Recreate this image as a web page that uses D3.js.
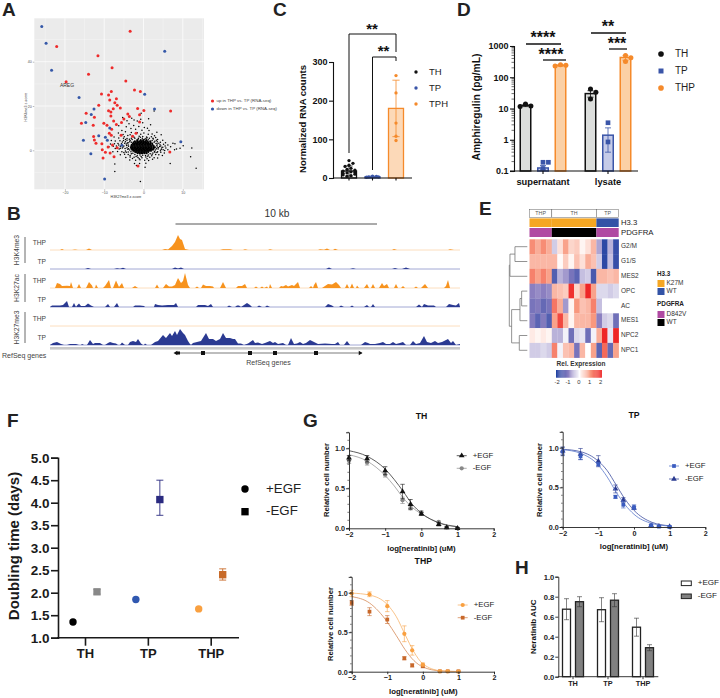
<!DOCTYPE html>
<html><head><meta charset="utf-8">
<script src="https://cdn.jsdelivr.net/npm/d3@7"></script>
<style>html,body{margin:0;background:#fff}svg{display:block}text{font-family:"Liberation Sans",Arial,sans-serif}</style>
</head><body><svg id="c" width="720" height="698"></svg>
<script>
// ---------- Panel A ----------
const upPts=[[-3.4,53.8],[-22.1,46.9],[-11.6,42.7],[-8,37.3],[-14,34.3],[-19.7,31],[-4.5,31.3],[-2.3,27.2],[-.8,26.6],[-10.7,25.4],[-8.2,26.5],[-8.9,25],[-6.9,23.3],[-8.6,22.7],[-7.3,21.5],[-6.7,20.3],[-11.4,20.3],[-5.9,19.1],[-7.7,18.8],[-8.9,17.9],[-8.3,17.3],[-14.6,16.7],[-8.3,15.5],[-12.5,14.9],[-1.5,18.9],[.1,18],[6.9,17.7],[-4,16.4],[-1,16.1],[-3.6,15.3],[-5,14.1],[-7.6,13.2],[-5.6,12.6],[-1,12.8],[-15.8,12.2],[-10.1,12.2],[-9.3,11.3],[-12.8,11.3],[-6.9,11.7],[-8.1,9.5],[-8.7,7.7],[-8.2,6.8],[-5.7,6.8],[-2.8,6.3],[-1.9,7.7],[-12.7,6.2],[-12.5,4.7],[-12.1,3.2],[-10.6,3],[-7.9,2.4],[-9,1.5],[-6.7,1.2],[-10.5,.2],[-9.7,-.9],[-8.5,-1.2],[-7.5,-2.9],[-10.3,-3.5],[-1.4,-7.1],[6.7,-.8]];
const downPts=[[-25.9,55.9],[-24.8,48.3],[-23.4,36.1],[5.4,44.7],[-16.4,23.8],[.3,25.3],[2.8,18.6],[-12.6,18.6],[-13.3,16.2],[-14.7,12.6],[-11.4,6.6],[-15.3,4.5],[-9.7,5.9],[-9.2,4.5],[-8.6,10.1],[-13.4,-1.5],[-5.5,2.3],[9.5,3.9],[-9.9,-12.9]];
const bgRows=[[4.6,[-1.6,-.7,-.1,.7]],[4.1,[-2.2,-1.6,-1.1,-.6,-.1,.4,1,1.7]],[3.6,[-2.5,-2,-1.6,-1.2,-.8,-.4,0,.4,.8,1.2,1.8]],[3.05,[-2.7,-2.3,-1.9,-1.5,-1.1,-.7,-.3,.1,.5,.9,1.3,1.7,2.2]],[2.5,[-3,-2.6,-2.2,-1.8,-1.4,-1,-.6,-.2,.2,.6,1,1.4,1.8,2.3]],[1.95,[-3.1,-2.7,-2.3,-1.9,-1.5,-1.1,-.7,-.3,.1,.5,.9,1.3,1.7,2.1,2.6]],[1.4,[-3.2,-2.8,-2.4,-2,-1.6,-1.2,-.8,-.4,0,.4,.8,1.2,1.6,2,2.5,2.9]],[.85,[-3.1,-2.7,-2.3,-1.9,-1.5,-1.1,-.7,-.3,.1,.5,.9,1.3,1.7,2.1,2.6]],[.3,[-2.9,-2.5,-2.1,-1.7,-1.3,-.9,-.5,-.1,.3,.7,1.1,1.5,1.9,2.4]],[-.25,[-2.6,-2.2,-1.8,-1.4,-1,-.6,-.2,.2,.6,1,1.4,1.9]],[-.8,[-2.1,-1.7,-1.3,-.9,-.5,-.1,.3,.7,1.2]],[-1.35,[-1.5,-1,-.6,-.2,.3,.8]]];
const bgMid=[[-3.9,3.4],[-3.4,4.4],[-2.9,4.9],[-1.3,5.1],[.2,5],[1.2,4.8],[2.2,4.4],[2.7,3.6],[3.2,3.1],[3.4,2.2],[3.8,1.2],[3.3,.7],[3,.1],[2.9,-.9],[2.4,-1.2],[1.7,-1.6],[1.2,-2.1],[.5,-2.3],[-.2,-2.2],[-.9,-2.1],[-1.6,-2.4],[-2.2,-1.9],[-2.7,-1.3],[-3.2,-.6],[-3.5,.1],[-3.8,.7],[-4.2,1.2],[-3.9,2.4],[-4.4,2.9],[-4.6,3.9],[-3.1,3.6],[-5.6,2.3],[-5.2,1.5],[-4.4,-.9],[-3.4,-2.3],[-1.9,-2.8],[-.6,-2.8],[1.1,-2.7],[2.1,-2.5],[3.4,-1],[4.3,-.2],[4.6,1],[4.4,2],[3.9,3.2],[3.3,4.6],[2.4,5.5],[.9,5.7],[-.8,5.9],[-2.4,5.9],[-3.6,5],[-4.6,4.9],[-5.4,3.7],[-6.3,2.4],[-5.9,.9],[-5,-1],[-2.8,-3.7],[-1.1,-3.8],[.9,-3.8],[2.3,-4],[5,.2],[5.5,1.9],[2.8,6.6],[-.7,7.2],[-3.4,7],[-4.9,6.1]];
const bgSparse=[[-3,14.5],[-2.4,13.7],[-1.6,13.2],[-.7,14],[1.3,14.2],[-.2,12.4],[1.8,11.5],[-3.7,12],[-2.5,11.2],[-1.2,10.8],[.2,10.3],[1,10],[-4.4,10.6],[-3.2,9.8],[-2,9.5],[-.4,9.1],[1.4,8.9],[3.4,8.2],[4.5,7],[-5.5,9],[-4.6,8.4],[-3.1,8],[-1.6,7.9],[.1,7.8],[1.2,7.3],[2.2,7.4],[-6.4,7.8],[-5.2,7.1],[-4,6.7],[-2.6,6.4],[-1.1,6.4],[-.2,6.2],[.8,6],[2,6.1],[3.1,5.8],[-7.5,6],[-6.3,5.6],[-5.1,5.4],[-4.2,5.3],[-3.1,5.4],[-2.2,5.5],[-1.3,5.5],[-.3,5.4],[.6,5.3],[1.5,5.4],[2.5,5.1],[3.6,4.9],[4.9,4.6],[-8.2,4.4],[-7.2,4.2],[-6,4.3],[-5.1,4.4],[-4.2,4.5],[-3.5,3.9],[2.9,4.1],[3.5,3.9],[4.3,3.6],[5.6,3.4],[-8.4,2.9],[-7.4,3],[-6.5,3.1],[-5.6,3],[-4.8,3.2],[-4.1,3.3],[3.5,2.8],[4.2,2.5],[5.1,2.7],[6.2,2.4],[7.5,3.2],[-8.8,1.6],[-7.7,1.8],[-6.9,1.9],[-5.9,1.8],[-5,2],[-4.3,2.2],[-3.8,1.8],[3.5,1.5],[4.1,1.7],[4.9,1.4],[5.7,1],[6.9,1.6],[8.4,.6],[-7.2,.8],[-6.2,.6],[-5.4,1],[-4.7,.8],[-4,.5],[3.7,.6],[4.5,.4],[5.4,-.1],[6.2,.3],[7.9,.3],[-7.8,-.7],[-6.6,-.5],[-5.5,-.6],[-4.6,-.3],[-3.9,-.8],[2.8,-.5],[3.6,-.6],[4.4,-.9],[5.3,-1.2],[9.3,.9],[-5.9,-2],[-4.8,-1.8],[-3.9,-1.9],[-3.1,-1.6],[2.2,-1.8],[3.1,-1.9],[3.9,-2],[4.8,-2.3],[-4.5,-3.2],[-3.4,-3],[-2.4,-3.1],[-1.4,-3.2],[-.4,-3.3],[.6,-3],[1.6,-3.1],[2.7,-3.3],[3.6,-3.5],[-3.5,-4.4],[-2,-4.5],[-.9,-4.3],[.3,-4.5],[1.3,-4.6],[-7.3,-6.2],[-2.3,-5.9],[-1,-6],[.6,-5.8],[-1.8,-6.8],[.4,-7.6],[-7.3,-9.6],[-.8,-14.1],[6.8,-6],[8,3],[10.1,2.1],[12.3,1],[12,-2.9],[13.4,-8.1],[2.7,17.7],[-5.3,14.8],[-4.2,13.4],[-6.3,11.1],[-.6,16.7]];
const aXTicks=[-20,-10,0,10], aYTicks=[0,20,40];
// ---------- Panel C ----------
const cCats=["TH","TP","TPH"];
const cMeans=[18,3,180], cSD=[13,2,73];
const cPoints=[[45,38,33,30,25,22,20,18,16,15,13,12,10,8,6,4],[5,4,3,3,2],[265,220,142,108,97]];
const cTicks=[0,100,200,300];
// ---------- Panel D ----------
const dGroups=["supernatant","lysate"], dConds=["TH","TP","THP"];
const dMeans=[[12.5,.125,240],[30,1.4,430]];
const dErrLow=[[11.5,.11,225],[23,.4,350]], dErrHigh=[[13.5,.15,255],[37,2.4,500]];
const dPoints=[[[14,12,11.5],[.19,.19,.12],[250,240,230]],[[42,33,20],[3.5,.85],[500,420,320]]];
const dTicks=[.1,1,10,100,1000];
// ---------- Panel B ----------
const trackK4THP=[[0,0],[10,0],[12,1],[14,0],[22,0],[25,.5],[28,0],[36,0],[39,1.5],[42,0],[112,0],[115,1],[118,.6],[122,4],[125,8],[128,15],[130,11],[132,10],[135,1],[139,0],[170,0],[173,.8],[180,.8],[183,0],[193,0],[195,.8],[198,0],[218,0],[220,.8],[223,0],[268,0],[270,.8],[274,.3],[277,1.5],[280,0],[283,0],[285,1.2],[288,0],[342,0],[344,1],[347,0],[398,0],[400,.8],[404,0],[410,0]];
const trackK4TP=[[0,0],[35,0],[38,1],[41,0],[64,0],[67,.7],[70,.2],[73,1.2],[76,0],[122,0],[125,1.5],[128,.6],[131,1.5],[134,0],[276,0],[279,1.5],[282,0],[300,0],[303,.8],[306,0],[342,0],[345,1],[348,0],[352,0],[356,1.5],[360,0],[410,0]];
const trackK27acTHP=[[0,0],[5,0],[7,5],[10,4],[12,2],[17,2.2],[20,2],[21,6],[23,0],[27,0],[29,4],[31,0],[36,0],[39,6],[42,2.5],[43,0],[45,0],[46,3.5],[48,0],[53,0],[55,2],[59,8],[61,0],[63,0],[66,7.5],[69,1],[72,5],[74,0],[82,0],[85,2],[88,0],[105,0],[107,3.5],[109,0],[113,0],[116,4],[119,1.5],[122,1.5],[125,3],[128,10],[131,5],[133,7],[135,15],[138,3],[140,0],[145,0],[147,1.5],[149,0],[151,0],[153,3.5],[156,2],[160,2],[163,1.5],[164,0],[170,0],[173,6],[176,0],[186,0],[188,2],[192,2],[195,4],[197,0],[204,0],[206,1.5],[208,0],[210,0],[212,1.5],[214,0],[216,1],[217,1.5],[218,0],[219,0],[220,4],[222,0],[229,0],[231,2],[233,1.5],[236,3],[238,1.5],[242,3],[244,2],[248,6],[250,0],[259,0],[261,2],[263,0],[264,3],[266,6],[268,0],[272,0],[275,2],[278,4],[282,3.5],[286,6],[289,3],[291,0],[295,0],[297,4],[299,0],[300,0],[302,4.5],[304,0],[306,0],[307,2.5],[309,0],[314,0],[317,4],[319,0],[321,0],[323,4],[325,0],[329,0],[332,5],[334,2],[337,4],[339,0],[344,0],[346,4],[348,0],[351,0],[353,2],[355,0],[364,0],[366,1.5],[368,0],[371,0],[375,4],[378,0],[394,0],[396,2],[398,8],[400,0],[410,0]];
const trackK27acTP=[[0,0],[2,1.5],[10,1.5],[13,2],[17,6],[19,0],[22,0],[24,4],[26,0],[27,1.5],[29,3.5],[31,1],[35,1],[38,3.5],[41,1.5],[44,0],[55,0],[58,3],[60,0],[64,0],[67,4],[69,0],[83,0],[85,1.5],[90,1.5],[94,1],[95,0],[104,0],[105,3],[108,2],[112,1.5],[118,2],[124,2],[126,4],[128,0],[146,0],[148,2],[155,2],[158,1],[161,3],[163,0],[177,0],[179,1.5],[182,0],[185,0],[187,1.5],[189,1.5],[191,0],[194,2],[197,4],[200,2],[202,0],[207,0],[209,1.5],[212,0],[215,0],[217,1.5],[220,0],[275,0],[278,3],[282,1.5],[284,0],[289,0],[291,1.5],[294,0],[300,0],[302,1.5],[304,0],[314,0],[317,2],[319,0],[321,0],[323,3],[325,0],[366,0],[369,2.5],[372,0],[374,3],[378,1.5],[384,1.5],[386,0],[396,0],[399,3],[403,2],[406,1.5],[409,4],[410,0]];
const trackK27me3THP=[[0,0],[410,0]];
const trackK27me3TP=[[0,0],[3,2],[7,3],[11,1],[14,0],[17,0],[20,1],[26,1],[29,0],[31,0],[32,1],[34,0],[37,0],[40,5],[43,1],[45,2],[50,2],[53,0],[55,0],[58,2],[60,3],[63,2],[66,1.5],[68,0],[70,0],[72,2.5],[75,0],[78,0],[80,3],[83,4],[86,3],[88,6],[91,1.5],[93,0],[94,0],[95,1.5],[97,0],[101,0],[105,3],[108,4],[113,10],[116,7],[120,12],[122,9],[125,14],[127,10],[130,16],[133,12],[135,10],[138,4],[140,1],[141,0],[143,2],[147,3],[151,4],[156,12],[159,6],[163,6],[166,4],[170,6],[173,12],[176,7],[180,7],[183,6],[185,6],[188,1.5],[191,1.5],[194,0],[198,1.5],[203,5],[205,2],[208,2.5],[212,1],[215,2],[220,4],[223,2],[225,3],[228,1],[233,2],[236,0],[238,0],[241,7],[244,1],[247,1.5],[250,3],[253,1],[256,2],[260,5],[264,3],[268,1],[275,1.5],[282,1],[285,1],[288,3],[290,0],[294,0],[297,4],[300,0],[311,0],[315,3],[318,2],[320,1],[325,1],[330,2],[333,3],[336,1],[340,1],[343,3],[346,1],[350,2],[353,3],[356,0],[360,0],[363,4],[366,1],[370,2],[374,9],[377,3],[381,2],[385,4],[388,2],[392,3],[398,6],[401,2],[403,4],[406,0],[410,1]];
const trackLabels=["THP","TP","THP","TP","THP","TP"];
const marks=["H3K4me3","H3K27ac","H3K27me3"];
const exonBins=[153,200,225,266];
// ---------- Panel E ----------
const heatRows=["G2/M","G1/S","MES2","OPC","AC","MES1","NPC2","NPC1"];
const heatVals=[
[1.1,.8,1.1,.8,-.4,.3,.9,.4,.5,.1,.3,.7,-.7,-2,-.6,-1.9],
[.7,.7,.7,.7,.7,.05,.5,.1,.6,.3,.8,.6,-.4,-2,-.5,-1.9],
[1.2,.9,1.2,.9,-1.6,-.6,-.8,-1.2,-1.5,-.5,-.4,-1.7,.7,.7,.6,.7],
[-1,-.9,-1,-.9,.7,.6,.5,1.9,.4,.9,2,.9,-.3,-.3,-.4,-.3],
[-1.2,-1.1,-1.4,-1.2,1.3,.8,-.8,.1,1,.6,.7,1.2,-.5,0,0,0],
[-1.1,-1.5,-1.1,-1.6,.9,1.7,.7,.1,.7,.7,.7,1,-1,-.4,-.3,-1.3],
[.2,.1,.2,.1,-.6,-.6,-.1,-1.3,-.3,-.2,-1.3,-.1,.8,2,-.2,2],
[-.4,-.4,-.3,-.4,1.2,-.1,.6,.7,-1.2,.7,0,.9,-1.5,1.4,-1.4,.9]];
const heatGroups=[["THP",4],["TH",8],["TP",4]];
const h33Colors=["#f5a623","#f5a623","#3353a6"], pdgfraColors=["#b04aa2","#000000","#b04aa2"];
const dendro={h:54,children:[{h:52,children:[{h:37,children:[{leaf:0},{leaf:1}]},{leaf:2}]},{h:47,children:[{h:22,children:[{h:17,children:[{leaf:3},{leaf:4}]},{leaf:5}]},{h:24,children:[{leaf:6},{leaf:7}]}]}]};
// ---------- Panel F ----------
const fCats=["TH","TP","THP"];
const fPlus=[1.35,1.85,1.64], fMinus=[2.02,4.07,2.4];
const fMinusLow=[1.97,3.72,2.28], fMinusHigh=[2.07,4.5,2.53];
const fPlusColors=["#000000","#3058b0","#f9a040"], fMinusColors=["#888888","#2a2a80","#c86a28"];
const fTicks=[1,1.5,2,2.5,3,3.5,4,4.5,5];
// ---------- Panel G ----------
const curveDoses=[-2,-1.5,-1,-.75,-.5,-.25,0,.5,1];
const pointDoses=[-2,-1.5,-1,-.52,-.3,0,.48,.7,1];
const gTH={title:"TH",
 plus:{curve:[.97,.9,.74,.61,.46,.3,.19,.065,.02],pts:[.88,.87,.72,.46,.3,.18,.05,.01,0],err:[.03,.04,.05,.09,.06,.02,.02,.01,.01]},
 minus:{curve:[.92,.84,.66,.53,.38,.26,.18,.07,.02],pts:[.84,.82,.67,.35,.25,.2,.08,.01,0],err:[.03,.03,.03,.04,.02,.02,.01,.01,.01]}};
const gTP={title:"TP",
 plus:{curve:[.975,.93,.78,.63,.44,.28,.16,.045,.012],pts:[.95,.89,.79,.38,.28,.25,.02,.005,0],err:[.05,.04,.02,.02,.04,.03,.01,.01,.01]},
 minus:{curve:[.98,.95,.83,.71,.53,.35,.21,.06,.015],pts:[.96,.92,.83,.48,.34,.24,.02,.01,.005],err:[.05,.07,.07,.05,.03,.02,.01,.01,.01]}};
const gTHP={title:"THP",
 plus:{curve:[.995,.97,.85,.7,.47,.25,.1,.012,.002],pts:[.99,.98,.83,.48,.27,.09,.005,.005,0],err:[.04,.03,.07,.1,.06,.02,.01,.01,.01]},
 minus:{curve:[.95,.87,.63,.46,.28,.14,.06,.01,.002],pts:[.87,.76,.66,.17,.08,.07,.005,.005,.005],err:[.03,.05,.05,.02,.02,.02,.005,.005,.005]}};
const gXTicks=[-2,-1,0,1,2], gYTicks=[0,.5,1], gYMinor=[0,.1,.2,.3,.4,.5,.6,.7,.8,.9,1,1.1,1.2];
// ---------- Panel H ----------
const hCats=["TH","TP","THP"];
const hPlus=[.675,.67,.495], hMinus=[.75,.765,.29];
const hPlusErr=[.105,.12,.09], hMinusErr=[.05,.065,.03];
const hTicks=[0,.2,.4,.6,.8,1];

// ========== drawing ==========
const svg=d3.select("#c");
const FONT='"Liberation Sans",Arial,sans-serif';
function T(g,x,y,s,o={}){const t=g.append("text").attr("x",x).attr("y",y).text(s)
 .attr("font-size",o.size||8).attr("font-weight",o.bold?"bold":"normal").attr("fill",o.fill||"#111")
 .attr("text-anchor",o.anchor||"start").attr("dominant-baseline","middle");
 if(o.rot)t.attr("transform",`rotate(${o.rot} ${x} ${y})`);return t;}
function styleAxis(a,o){a.selectAll("text").attr("font-size",o.size).attr("font-weight",o.bold?"bold":"normal").attr("fill",o.color||"#111").style("font-family",FONT);
 a.selectAll("line,path").attr("stroke",o.color||"#111").attr("stroke-width",o.w||1);return a;}
function swarm(vals,y,r){const placed=[];return vals.map(v=>{const py=y(v);let dx=0;
 for(let k=0;k<40;k++){const c=(k%2?1:-1)*Math.ceil(k/2)*r*.9;if(placed.every(p=>Math.hypot(p[0]-c,p[1]-py)>=r*1.55)){dx=c;break;}}
 placed.push([dx,py]);return dx;});}
function errBar(g,x,y1,y2,cap,color,w){g.append("path").attr("d",`M${x-cap},${y1}H${x+cap}M${x},${y1}V${y2}M${x-cap},${y2}H${x+cap}`).attr("stroke",color).attr("stroke-width",w||1).attr("fill","none");}
const sym=(t,s)=>d3.symbol().type(t).size(s)();
// letters
[["A",2,10.5],["C",273,11],["D",457,11],["B",7,215],["E",479,209.5],["F",7,421.5],["G",303,421.5],["H",515,569]].forEach(l=>T(svg,l[1],l[2],l[0],{size:19,bold:true,fill:"#222"}));

// ---- A
{const g=svg.append("g");
 const x=d3.scaleLinear([-27.8,15.4],[34.3,204]), y=d3.scaleLinear([-17.6,59.6],[189.3,18.3]);
 g.append("rect").attr("x",x.range()[0]).attr("y",y.range()[1]).attr("width",x.range()[1]-x.range()[0]).attr("height",y.range()[0]-y.range()[1]).attr("fill","#ebebeb");
 [-25,-15,-5,5,15].forEach(v=>g.append("line").attr("x1",x(v)).attr("x2",x(v)).attr("y1",y.range()[0]).attr("y2",y.range()[1]).attr("stroke","#fff").attr("stroke-width",.3));
 [-10,10,30,50].forEach(v=>g.append("line").attr("y1",y(v)).attr("y2",y(v)).attr("x1",x.range()[0]).attr("x2",x.range()[1]).attr("stroke","#fff").attr("stroke-width",.3));
 aXTicks.forEach(v=>g.append("line").attr("x1",x(v)).attr("x2",x(v)).attr("y1",y.range()[0]).attr("y2",y.range()[1]).attr("stroke","#fff").attr("stroke-width",.7));
 aYTicks.forEach(v=>g.append("line").attr("y1",y(v)).attr("y2",y(v)).attr("x1",x.range()[0]).attr("x2",x.range()[1]).attr("stroke","#fff").attr("stroke-width",.7));
 const ax=g.append("g").attr("transform",`translate(0,${y.range()[0]})`).call(d3.axisBottom(x).tickValues(aXTicks).tickSize(1.5).tickPadding(1));
 styleAxis(ax,{size:3.6,color:"#555",w:.4});ax.select(".domain").remove();
 const ay=g.append("g").attr("transform",`translate(${x.range()[0]},0)`).call(d3.axisLeft(y).tickValues(aYTicks).tickSize(1.5).tickPadding(1));
 styleAxis(ay,{size:3.6,color:"#555",w:.4});ay.select(".domain").remove();
 const core=bgRows.flatMap(r=>r[1].map(v=>[v,r[0]]));
 g.append("g").selectAll("circle").data(bgSparse.concat(bgMid)).join("circle").attr("cx",d=>x(d[0])).attr("cy",d=>y(d[1])).attr("r",.75).attr("fill","#000");
 g.append("g").selectAll("circle").data(core).join("circle").attr("cx",d=>x(d[0])).attr("cy",d=>y(d[1])).attr("r",1.05).attr("fill","#000");
 g.append("g").selectAll("circle").data(upPts).join("circle").attr("cx",d=>x(d[0])).attr("cy",d=>y(d[1])).attr("r",1.5).attr("fill","#ee2b2b");
 g.append("g").selectAll("circle").data(downPts).join("circle").attr("cx",d=>x(d[0])).attr("cy",d=>y(d[1])).attr("r",1.5).attr("fill","#3558a8");
 T(g,67,86,"AREG",{size:5,anchor:"middle",fill:"#333"});
 T(g,126,197.5,"H3K27me3 z-score",{size:3.6,anchor:"middle",fill:"#333"});
 T(g,25.7,107,"H3K4me3 z-score",{size:3.6,anchor:"middle",rot:-90,fill:"#333"});
 g.append("circle").attr("cx",212.5).attr("cy",101).attr("r",1.6).attr("fill","#ee2b2b");
 g.append("circle").attr("cx",212.5).attr("cy",109).attr("r",1.6).attr("fill","#3558a8");
 T(g,216.5,101,"up in THP vs. TP (RNA-seq)",{size:4.4,fill:"#444"});
 T(g,216.5,108.5,"down in THP vs. TP (RNA-seq)",{size:4.4,fill:"#444"});
}
// ---- C
{const g=svg.append("g");
 const x=d3.scaleBand(cCats,[337.25,407.75]), y=d3.scaleLinear([0,300],[178,62]);
 const cols=["#111","#3a55a8","#f58a2b"], fills=["#ffffff","#dfe3f3","#fcd9b8"], bw=15;
 cCats.forEach((c,i)=>{const cx=x(c)+x.bandwidth()/2;
  g.append("rect").attr("x",cx-bw/2).attr("y",y(cMeans[i])).attr("width",bw).attr("height",y(0)-y(cMeans[i])).attr("fill",fills[i]).attr("stroke",cols[i]).attr("stroke-width",1.3);
  errBar(g,cx,y(cMeans[i]+cSD[i]),y(Math.max(cMeans[i]-cSD[i],0)),3.6,cols[i],.8);
  const dx=swarm(cPoints[i],y,2.2);
  g.append("g").selectAll("circle").data(cPoints[i]).join("circle").attr("cx",(d,k)=>cx+(i==2?0:Math.max(-6,Math.min(6,dx[k])))).attr("cy",d=>y(d)).attr("r",1.65).attr("fill",cols[i]);
 });
 const ay=g.append("g").attr("transform","translate(333,0)").call(d3.axisLeft(y).tickValues(cTicks).tickSize(4).tickPadding(1.5));styleAxis(ay,{size:9,bold:true,w:1.1});
 const ax=g.append("g").attr("transform",`translate(0,${y(0)})`).call(d3.axisBottom(x).tickSize(2.5).tickFormat(""));styleAxis(ax,{size:8,w:1.1});
 ax.select(".domain").remove();g.append("line").attr("x1",333).attr("x2",412).attr("y1",y(0)).attr("y2",y(0)).attr("stroke","#111").attr("stroke-width",1.1);
 T(g,303,119,"Normalized RNA counts",{size:9.5,bold:true,anchor:"middle",rot:-90});
 const cx=c=>x(c)+x.bandwidth()/2;
 g.append("path").attr("d",`M${cx("TH")},153V34H${cx("TPH")}V52`).attr("fill","none").attr("stroke","#111").attr("stroke-width",1);
 g.append("path").attr("d",`M${cx("TP")},170V57H${cx("TPH")}V61`).attr("fill","none").attr("stroke","#111").attr("stroke-width",1);
 T(g,372,30.3,"**",{size:15,bold:true,anchor:"middle"});T(g,383.5,52.3,"**",{size:15,bold:true,anchor:"middle"});
 cCats.forEach((c,i)=>{const yy=72+16*i;g.append("circle").attr("cx",416).attr("cy",yy).attr("r",1.7).attr("fill",cols[i]);T(g,429,yy,c,{size:9.5,fill:"#222"});});
}
// ---- D
{const g=svg.append("g");
 const x0=d3.scaleBand(dGroups,[510.5,640.5]), x1=d3.scaleBand(dConds,[0,x0.bandwidth()]).paddingOuter(.357).paddingInner(0);
 const y=d3.scaleLog([.1,1000],[171,46]).clamp(true);
 const st=["#111","#3a55a8","#f58a2b"], fl=["#dcdedc","#c5cbe8","#fbd0a5"], bw=10.5;
 dGroups.forEach((gr,i)=>dConds.forEach((c,j)=>{const cx=x0(gr)+x1(c)+x1.bandwidth()/2;
  g.append("rect").attr("x",cx-bw/2).attr("y",y(dMeans[i][j])).attr("width",bw).attr("height",y(.1)-y(dMeans[i][j])).attr("fill",fl[j]).attr("stroke",st[j]).attr("stroke-width",1.5);
  errBar(g,cx,y(dErrHigh[i][j]),y(dErrLow[i][j]),3,st[j],.8);
  const pts=dPoints[i][j], dx=swarm(pts,y,3);
  pts.forEach((v,k)=>{g.append("path").attr("d",sym(j==1?d3.symbolSquare:d3.symbolCircle,j==1?22:20)).attr("transform",`translate(${cx+dx[k]},${y(v)})`).attr("fill",st[j]);});
 }));
 const ay=g.append("g").attr("transform","translate(514,0)").call(d3.axisLeft(y).tickValues(dTicks).tickFormat(d=>d).tickSize(4).tickPadding(1.5));styleAxis(ay,{size:9,bold:true,w:1.1});
 const minors=[];dTicks.slice(0,4).forEach(b=>d3.range(2,10).forEach(m=>minors.push(b*m)));
 g.append("g").selectAll("line").data(minors).join("line").attr("x1",511.5).attr("x2",514).attr("y1",d=>y(d)).attr("y2",d=>y(d)).attr("stroke","#111").attr("stroke-width",.6);
 const ax=g.append("g").attr("transform","translate(0,171)").call(d3.axisBottom(x0).tickSize(3).tickPadding(4));styleAxis(ax,{size:9.3,bold:true,w:1.1});
 ax.select(".domain").remove();g.append("line").attr("x1",510).attr("x2",638).attr("y1",171).attr("y2",171).attr("stroke","#111").attr("stroke-width",1.1);
 T(g,477,107,"Amphiregulin (pg/mL)",{size:10.3,bold:true,anchor:"middle",rot:-90});
 [[526,561,44,543,38.5,"****"],[543,566,60,551,55.5,"****"],[591,626,33,608,27.5,"**"],[609,627,49,617,44.5,"***"]].forEach(a=>{
  g.append("line").attr("x1",a[0]).attr("x2",a[1]).attr("y1",a[2]).attr("y2",a[2]).attr("stroke","#111").attr("stroke-width",1.3);
  T(g,a[3],a[4],a[5],{size:16,bold:true,anchor:"middle"});});
 dConds.forEach((c,i)=>{const yy=54+17*i;g.append("path").attr("d",sym(i==1?d3.symbolSquare:d3.symbolCircle,25)).attr("transform",`translate(661,${yy})`).attr("fill",i==1?"#3a55a8":st[i]);T(g,675,yy,c,{size:10,fill:"#222"});});
}
// ---- B
{const g=svg.append("g");
 const x=d3.scaleLinear([0,410],[50,460]);
 const tracks=[trackK4THP,trackK4TP,trackK27acTHP,trackK27acTP,trackK27me3THP,trackK27me3TP];
 const bases=[250,269,288,307,326,345];
 tracks.forEach((t,i)=>{const b=bases[i], y=d3.scaleLinear([0,20],[b,b-20]), orange=i%2==0;
  g.append("line").attr("x1",x(0)).attr("x2",x(410)).attr("y1",b).attr("y2",b).attr("stroke",orange?"#fbd6ad":"#8c92c9").attr("stroke-width",.8);
  g.append("path").attr("d",d3.area().x(d=>x(d[0])).y0(b).y1(d=>y(d[1]))(t)).attr("fill",orange?"#f7931e":"#2b3a92");
  T(g,46,b-7,trackLabels[i],{size:6.7,anchor:"end",fill:"#444"});
 });
 g.append("rect").attr("x",50).attr("y",347).attr("width",410).attr("height",2.6).attr("fill","#c9c9c9");
 [[237,263,0],[274,302,1],[312,343,2]].forEach(a=>{
  g.append("line").attr("x1",25).attr("x2",25).attr("y1",a[0]).attr("y2",a[1]).attr("stroke","#444").attr("stroke-width",.8);
  T(g,17.5,(a[0]+a[1])/2,marks[a[2]],{size:6.8,anchor:"middle",rot:-90,fill:"#444"});});
 g.append("line").attr("x1",175.5).attr("x2",377).attr("y1",224).attr("y2",224).attr("stroke","#444").attr("stroke-width",.9);
 T(g,277,214.5,"10 kb",{size:10.2,anchor:"middle",fill:"#333"});
 g.append("line").attr("x1",x(125)).attr("x2",x(312)).attr("y1",353).attr("y2",353).attr("stroke","#222").attr("stroke-width",.6);
 exonBins.forEach(b=>g.append("rect").attr("x",x(b)-2).attr("y",351).attr("width",4).attr("height",4).attr("fill","#111"));
 g.append("path").attr("d",sym(d3.symbolTriangle,8)).attr("transform",`translate(${x(126)},353) rotate(-90)`).attr("fill","#111");
 g.append("rect").attr("x",x(127)).attr("y",351.5).attr("width",3).attr("height",3).attr("fill","#111");
 g.append("path").attr("d",sym(d3.symbolTriangle,8)).attr("transform",`translate(${x(310)},353) rotate(90)`).attr("fill","#111");
 T(g,2,356,"RefSeq genes",{size:7,fill:"#444"});
 T(g,268.5,363.5,"RefSeq genes",{size:7,anchor:"middle",fill:"#444"});
}
// ---- E
{const g=svg.append("g");
 const cols=d3.range(16), x=d3.scaleBand(cols,[529.5,618.7]), y=d3.scaleBand(heatRows,[239.3,357.7]);
 const color=d3.scaleLinear([-2,-1,0,1,2],["#2c49a5","#8b7fc0","#ffffff","#f8987e","#ee2626"]);
 heatRows.forEach((r,i)=>heatVals[i].forEach((v,j)=>g.append("rect").attr("x",x(j)).attr("y",y(r)).attr("width",x.bandwidth()+.2).attr("height",y.bandwidth()+.2).attr("fill",color(v))));
 heatRows.forEach(r=>T(g,621,y(r)+y.bandwidth()/2,r,{size:6.5,fill:"#333"}));
 let start=0;heatGroups.forEach((h,i)=>{const x0=x(start), x1=x0+x.bandwidth()*h[1];
  g.append("rect").attr("x",x0).attr("y",209.7).attr("width",x1-x0).attr("height",8).attr("fill","#fff").attr("stroke","#666").attr("stroke-width",.5);
  T(g,(x0+x1)/2,213.9,h[0],{size:5.3,anchor:"middle",fill:"#555"});
  g.append("rect").attr("x",x0).attr("y",218.4).attr("width",x1-x0).attr("height",8.6).attr("fill",h33Colors[i]);
  g.append("rect").attr("x",x0).attr("y",228).attr("width",x1-x0).attr("height",9).attr("fill",pdgfraColors[i]);
  start+=h[1];});
 T(g,621,223,"H3.3",{size:7.7,fill:"#222"});T(g,621,232.8,"PDGFRA",{size:7.8,fill:"#222"});
 const root=d3.hierarchy(dendro), hx=d3.scaleLinear([0,54],[527.3,509.3]);
 root.eachAfter(n=>{n.yy=n.children?d3.mean(n.children,c=>c.yy):y(heatRows[n.data.leaf])+y.bandwidth()/2;n.xx=hx(n.data.h||0);});
 const link=d3.path();root.each(n=>{if(n.children){const[a,b]=n.children;link.moveTo(a.xx,a.yy);link.lineTo(n.xx,a.yy);link.lineTo(n.xx,b.yy);link.lineTo(b.xx,b.yy);}});
 g.append("path").attr("d",link.toString()).attr("fill","none").attr("stroke","#777").attr("stroke-width",.8);
 const cb=d3.scaleLinear([-2.1,2.1],[556,601.7]);
 d3.range(-2.1,2.1,.1).forEach(v=>g.append("rect").attr("x",cb(v)).attr("y",370).attr("width",cb(.1)-cb(0)+.2).attr("height",7.7).attr("fill",color(v)));
 [-2,-1,0,1,2].forEach(v=>T(g,cb(v),382.5,v,{size:5.8,anchor:"middle",fill:"#333"}));
 T(g,581,364.3,"Rel. Expression",{size:6.5,bold:true,anchor:"middle",fill:"#333"});
 T(g,657,274,"H3.3",{size:6.3,bold:true,fill:"#222"});T(g,657,304.5,"PDGFRA",{size:6.4,bold:true,fill:"#222"});
 [[280,"#f5a623","K27M"],[288,"#3353a6","WT"],[311,"#b04aa2","D842V"],[319,"#000","WT"]].forEach(a=>{
  g.append("rect").attr("x",657.5).attr("y",a[0]).attr("width",7).attr("height",7).attr("fill",a[1]);T(g,666.5,a[0]+3.6,a[2],{size:6.5,fill:"#333"});});
}
// ---- F
{const g=svg.append("g");
 const x=d3.scalePoint(fCats,[85,210.7]), y=d3.scaleLinear([1,5],[637.7,457.7]), off=12;
 const ay=g.append("g").attr("transform","translate(58,0)").call(d3.axisLeft(y).tickValues(fTicks).tickFormat(d3.format(".1f")).tickSize(7).tickPadding(1.5));styleAxis(ay,{size:13.5,bold:true,w:1.6,color:"#1a1a1a"});
 const ax=g.append("g").attr("transform",`translate(0,${y(1)})`).call(d3.axisBottom(x).tickSize(8).tickPadding(3));styleAxis(ax,{size:13,bold:true,w:1.6,color:"#1a1a1a"});
 ax.select(".domain").remove();g.append("line").attr("x1",57).attr("x2",239).attr("y1",y(1)).attr("y2",y(1)).attr("stroke","#1a1a1a").attr("stroke-width",1.6);
 fCats.forEach((c,i)=>{const cx=x(c);
  g.append("circle").attr("cx",cx-off).attr("cy",y(fPlus[i])).attr("r",3.7).attr("fill",fPlusColors[i]);
  errBar(g,cx+off,y(fMinusHigh[i]),y(fMinusLow[i]),3.5,fMinusColors[i],.9);
  g.append("path").attr("d",sym(d3.symbolSquare,54)).attr("transform",`translate(${cx+off},${y(fMinus[i])})`).attr("fill",fMinusColors[i]);});
 T(g,15,546,"Doubling time (days)",{size:15,bold:true,anchor:"middle",rot:-90,fill:"#1a1a1a"});
 g.append("circle").attr("cx",245).attr("cy",489).attr("r",3.7).attr("fill","#000");
 g.append("path").attr("d",sym(d3.symbolSquare,54)).attr("transform","translate(245,511.7)").attr("fill","#000");
 T(g,266,489,"+EGF",{size:13.3,fill:"#222"});T(g,266,511.7,"-EGF",{size:13.3,fill:"#222"});
}
// ---- G
function dose(d,o){const g=svg.append("g");
 const x=d3.scaleLinear([-2,2],[o.x0,o.x1]), y=d3.scaleLinear([0,1.2],[o.y0,o.y0-(o.y0-o.y1)*1.2]);
 [[d.minus,o.c2,o.s2,o.lc2],[d.plus,o.c1,o.s1,o.lc1]].forEach(([s,c,t,lc])=>{
  g.append("path").attr("d",d3.line().x((v,i)=>x(curveDoses[i])).y(v=>y(v)).curve(d3.curveMonotoneX)(s.curve)).attr("fill","none").attr("stroke",lc).attr("stroke-width",.8);
  s.pts.forEach((v,i)=>{const px=x(pointDoses[i]);errBar(g,px,y(v+s.err[i]),y(Math.max(v-s.err[i],0)),2.2,c,.6);
   g.append("path").attr("d",sym(t,14)).attr("transform",`translate(${px},${y(v)})`).attr("fill",c);});});
 const ay=g.append("g").attr("transform",`translate(${o.x0},0)`).call(d3.axisLeft(y).tickValues(gYTicks).tickFormat(d3.format(".1f")).tickSize(3).tickPadding(1));styleAxis(ay,{size:7.2,bold:true,w:.9,color:"#222"});
 g.append("g").selectAll("line").data(gYMinor).join("line").attr("x1",o.x0-1.6).attr("x2",o.x0).attr("y1",v=>y(v)).attr("y2",v=>y(v)).attr("stroke","#222").attr("stroke-width",.6);
 const ax=g.append("g").attr("transform",`translate(0,${o.y0})`).call(d3.axisBottom(x).tickValues(gXTicks).tickFormat(d3.format("d")).tickSize(2.5).tickPadding(1));styleAxis(ax,{size:7.2,bold:true,w:.9,color:"#222"});
 T(g,o.tx,o.ty,d.title,{size:8.7,bold:true,anchor:"middle"});
 T(g,o.tx,o.xly,"log[neratinib] (uM)",{size:7.8,bold:true,anchor:"middle"});
 T(g,o.ylx,o.yly,"Relative cell number",{size:7.6,bold:true,anchor:"middle",rot:-90});
 [[o.leg1,"+EGF",o.c1,o.s1,o.lc1],[o.leg2,"-EGF",o.c2,o.s2,o.lc2]].forEach(a=>{
  g.append("line").attr("x1",o.lx).attr("x2",o.lx+10).attr("y1",a[0]).attr("y2",a[0]).attr("stroke",a[4]).attr("stroke-width",.8);
  g.append("path").attr("d",sym(a[3],14)).attr("transform",`translate(${o.lx+5},${a[0]})`).attr("fill",a[2]);
  T(g,o.lx+16,a[0],a[1],{size:7.8,fill:"#222"});});
}
dose(gTH,{x0:349,x1:493.7,y0:528.3,y1:448.3,tx:421.5,ty:416.7,xly:548.5,ylx:326.7,yly:480,lx:456.7,leg1:455.7,leg2:468.3,c1:"#111",c2:"#888",s1:d3.symbolTriangle,s2:d3.symbolCircle,lc1:"#333",lc2:"#999"});
dose(gTP,{x0:562.7,x1:705.3,y0:527,y1:447.7,tx:634,ty:416,xly:546.7,ylx:540,yly:480,lx:669,leg1:466,leg2:479,c1:"#3a5cc0",c2:"#2a3a90",s1:d3.symbolSquare,s2:d3.symbolTriangle,lc1:"#5a78cc",lc2:"#3e4ea0"});
dose(gTHP,{x0:351.7,x1:494,y0:671.7,y1:592.7,tx:423.3,ty:561.7,xly:691.7,ylx:330.7,yly:624,lx:457.7,leg1:605,leg2:617.7,c1:"#f9a040",c2:"#c8682a",s1:d3.symbolCircle,s2:d3.symbolSquare,lc1:"#f8b46c",lc2:"#d68a58"});
// ---- H
{const g=svg.append("g");
 const x=d3.scaleBand(hCats,[555.5,660.5]), y=d3.scaleLinear([0,1],[676.7,576.7]), off=6.5, bw=8;
 hCats.forEach((c,i)=>{const cx=x(c)+x.bandwidth()/2;
  [[cx-off,hPlus[i],hPlusErr[i],"#fff"],[cx+off,hMinus[i],hMinusErr[i],"#808080"]].forEach(a=>{
   g.append("rect").attr("x",a[0]-bw/2).attr("y",y(a[1])).attr("width",bw).attr("height",y(0)-y(a[1])).attr("fill",a[3]).attr("stroke","#222").attr("stroke-width",1.3);
   errBar(g,a[0],y(a[1]+a[2]),y(a[1]-a[2]),2.5,"#333",.6);});});
 const ay=g.append("g").attr("transform","translate(558.3,0)").call(d3.axisLeft(y).tickValues(hTicks).tickFormat(d3.format(".1f")).tickSize(3).tickPadding(1));styleAxis(ay,{size:7.6,bold:true,w:.9,color:"#222"});
 const ax=g.append("g").attr("transform",`translate(0,${y(0)})`).call(d3.axisBottom(x).tickSize(2.5).tickPadding(2));styleAxis(ax,{size:7.3,bold:true,w:.9,color:"#222"});
 ax.select(".domain").remove();g.append("line").attr("x1",558).attr("x2",658.3).attr("y1",y(0)).attr("y2",y(0)).attr("stroke","#222").attr("stroke-width",.9);
 T(g,534,626.7,"Neratinib AUC",{size:8.1,bold:true,anchor:"middle",rot:-90});
 [[581,"#fff","+EGF"],[594,"#808080","-EGF"]].forEach(a=>{g.append("rect").attr("x",681.3).attr("y",a[0]).attr("width",10).attr("height",4.6).attr("fill",a[1]).attr("stroke","#222").attr("stroke-width",1);T(g,697.7,a[0]+2.3,a[2],{size:8.1,fill:"#222"});});
}
</script></body></html>
